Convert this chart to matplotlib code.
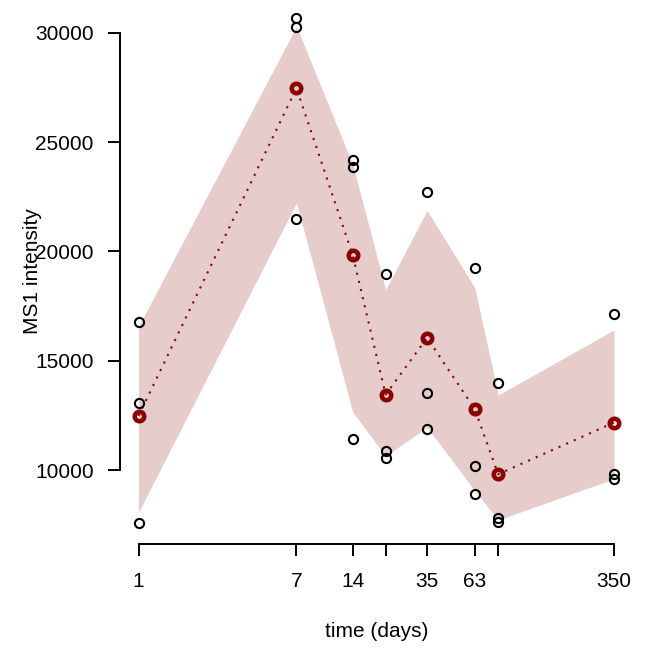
"""
MS1 intensity over time: replicates, mean and band
"""

import numpy as np
import matplotlib.pyplot as plt

plt.rcParams['font.family'] = ['Liberation Sans', 'DejaVu Sans']

# %% Data
days = [1, 7, 14, 21, 35, 63, 84, 350]
rep1 = [16780, 30660, 24180, 18950, 22730, 19250, 13960, 17140]
rep2 = [13080, 30240, 23860, 10860, 13530, 10180, 7830, 9810]
rep3 = [7560, 21500, 11440, 10540, 11890, 8920, 7640, 9570]
band_hi = [16570, 30290, 23970, 18260, 21870, 18340, 13430, 16410]
band_lo = [8070, 22220, 12650, 10640, 11960, 9050, 7720, 9600]
tick_days = [1, 7, 14, 21, 35, 63, 84, 350]
tick_labels = ['1', '7', '14', '', '35', '63', '', '350']

means = np.mean([rep1, rep2, rep3], axis=0)

# %% Plot
fig = plt.figure(figsize=(6.52, 6.53), dpi=100)
ax = fig.add_axes([0.1833, 0.1675, 0.7876, 0.8354])
ax.set_xscale('log')

ax.fill_between(days, band_lo, band_hi, color='#E7CCCC', lw=0, zorder=1)

for rep in [rep1, rep2, rep3]:
    ax.plot(days, rep, 'o', ms=6.6, mfc='none', mec='black', mew=1.5, zorder=3)

ax.plot(days, means, color='darkred', lw=1.5, linestyle=(0, (1, 3)), zorder=2)
ax.plot(days, means, 'o', ms=6.8, mfc='none', mec='darkred', mew=3.3, zorder=4)

ax.set_xlim(np.exp(-0.234), np.exp(6.092))
ax.set_ylim(6636, 31582)

# R-like detached axes
for s in ['top', 'right']:
    ax.spines[s].set_visible(False)
ax.spines['bottom'].set_bounds(1, 350)
ax.spines['left'].set_bounds(10000, 30000)
for s in ['bottom', 'left']:
    ax.spines[s].set_linewidth(1.4)

ax.set_xticks(tick_days)
ax.set_xticklabels(tick_labels)
ax.xaxis.set_minor_locator(plt.NullLocator())
ax.set_yticks([10000, 15000, 20000, 25000, 30000])
ax.set_yticklabels(['10000', '15000', '20000', '25000', '30000'])
ax.tick_params(axis='both', length=8.9, width=1.4, labelsize=15, direction='out')
ax.tick_params(axis='x', pad=11.5)
ax.tick_params(axis='y', pad=9.6)

ax.set_xlabel('time (days)', fontsize=15, va='center')
ax.xaxis.set_label_coords(0.5, -0.162)
ax.set_ylabel('MS1 intensity', fontsize=15, va='center')
ax.yaxis.set_label_coords(-0.1694, 0.5)

plt.savefig('out.png', dpi=100)
